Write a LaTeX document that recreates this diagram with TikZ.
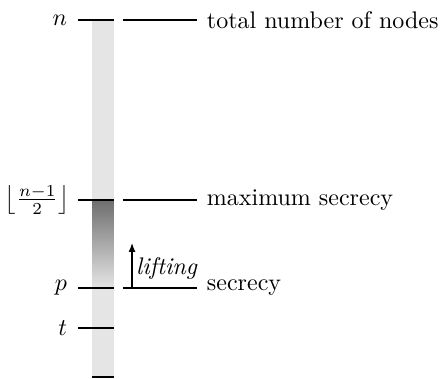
\documentclass[tikz,border=0pt]{standalone}
\usepackage{tikz}
\usetikzlibrary{arrows.meta, positioning}

\begin{document}
\begin{tikzpicture}[
  tick/.style={line width=0.6pt, draw=black},
  leftlab/.style={anchor=east, inner sep=0pt, outer sep=0pt},
  rightlab/.style={anchor=west, inner sep=0pt, outer sep=0pt},
  liftarrow/.style={-{Latex[length=1.3mm, width=1mm]}, line width=0.5pt}
]
\useasboundingbox (0,0) rectangle (6.457,5.549);

% the column
\fill[black!10] (1.347,0.03) rectangle (1.669,5.256);
\shade[top color=black!57, bottom color=black!10] (1.347,1.332) rectangle (1.669,2.621);

% levels
\coordinate (nL) at (1.142,5.256);
\coordinate (mL) at (1.142,2.621);
\coordinate (pL) at (1.142,1.332);
\coordinate (tL) at (1.142,0.747);
\coordinate (bL) at (1.347,0.03);

\draw[tick] (nL) -- ++(0.527,0);
\draw[tick] (mL) -- ++(0.527,0);
\draw[tick] (pL) -- ++(0.527,0);
\draw[tick] (tL) -- ++(0.527,0);
\draw[tick] (bL) -- ++(0.322,0);

\node[leftlab] (n) at (0.98,5.256) {$n$};
\node[leftlab] (m) at (1.02,2.621) {$\left\lfloor\frac{n-1}{2}\right\rfloor$};
\node[leftlab] (p) at (0.98,1.332) {$p$};
\node[leftlab] (t) at (0.98,0.747) {$t$};

% right side
\coordinate (nR) at (1.80,5.256);
\coordinate (mR) at (1.80,2.621);
\coordinate (pR) at (1.80,1.332);

\node[rightlab] (total) at (3.03,5.256) {total number of nodes};
\node[rightlab] (maxsec) at (3.03,2.621) {maximum secrecy};
\node[rightlab] (sec) at (3.03,1.332) {secrecy};

\draw[tick] (nR) -- (2.884,5.256);
\draw[tick] (mR) -- (2.884,2.621);
\draw[tick] (pR) -- (2.884,1.332);

% lifting
\coordinate (liftA) at (1.933,1.332);
\coordinate (liftB) at (1.933,1.991);
\draw[liftarrow] (liftA) -- (liftB) node[midway, anchor=west, inner sep=1.5pt, yshift=-0.05cm] (lift) {\textit{lifting}};
\end{tikzpicture}
\end{document}
